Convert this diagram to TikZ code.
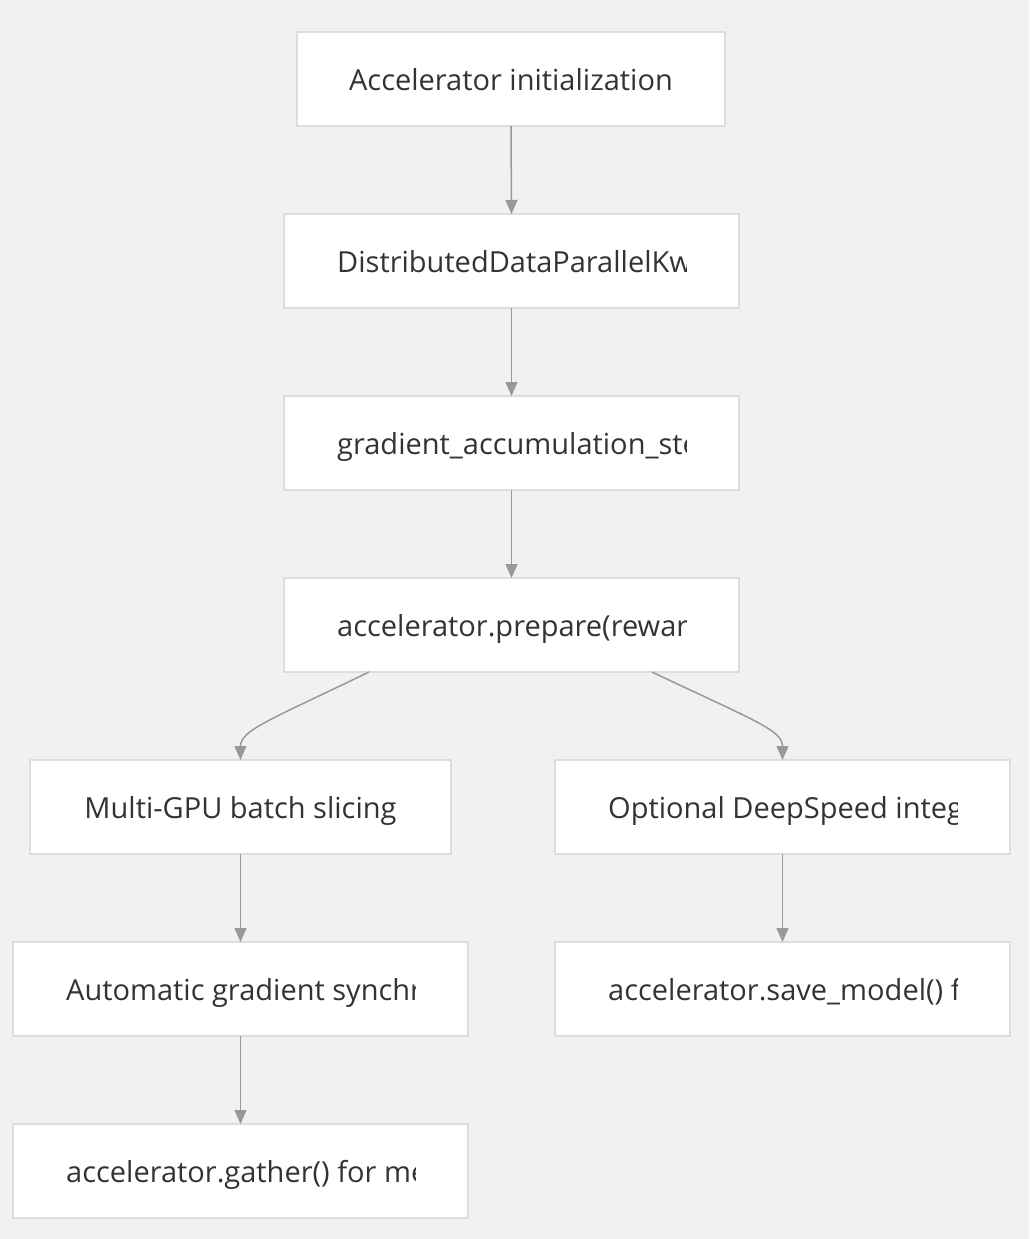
\documentclass[tikz,border=0pt]{standalone}
\usepackage{fontspec}
\setmainfont{Open Sans}
\usetikzlibrary{arrows.meta,calc}
\definecolor{bg}{HTML}{F2F1EF}
\definecolor{bd}{HTML}{DDDDDD}
\definecolor{ln}{HTML}{999999}
\definecolor{tx}{HTML}{333333}
\tikzset{
 box/.style={draw=bd, line width=1.5pt, fill=white, minimum height=94pt, inner sep=0pt, outer sep=0pt},
 lbl/.style={text=tx, font=\fontsize{29}{34}\selectfont, inner sep=0pt},
 conn/.style={draw=ln, line width=1.5pt, -{Triangle[length=14pt,width=12pt]}},
}
\begin{document}
\begin{tikzpicture}[x=1pt,y=-1pt]
\fill[bg] (0,0) rectangle (1029,1239);
\useasboundingbox (0,0) rectangle (1029,1239);
% boxes
\node[box, minimum width=428pt] (n1) at (511,79) {};
\node[box, minimum width=455pt] (n2) at (511.5,261) {};
\node[box, minimum width=455pt] (n3) at (511.5,443) {};
\node[box, minimum width=455pt] (n4) at (511.5,625) {};
\node[box, minimum width=421pt] (n5) at (240.5,807) {};
\node[box, minimum width=455pt] (n6) at (782.5,807) {};
\node[box, minimum width=455pt] (n7) at (240.5,989) {};
\node[box, minimum width=455pt] (n8) at (782.5,989) {};
\node[box, minimum width=455pt] (n9) at (240.5,1171) {};
% labels
\node[lbl, anchor=base] (t1) at ($(n1.center)+(0,11)$) {Accelerator initialization};
\node[lbl, anchor=base] (t5) at ($(n5.center)+(0,11)$) {Multi-GPU batch slicing};
\begin{scope}
\clip ($(n2.north west)+(53,0)$) rectangle ($(n2.south east)+(-53,0)$);
\node[lbl, anchor=base west] (t2) at ($(n2.west)+(53,11)$) {DistributedDataParallelKwa};
\end{scope}
\begin{scope}
\clip ($(n3.north west)+(53,0)$) rectangle ($(n3.south east)+(-53,0)$);
\node[lbl, anchor=base west] (t3) at ($(n3.west)+(53,11)$) {gradient\_accumulation\_ste};
\end{scope}
\begin{scope}
\clip ($(n4.north west)+(53,0)$) rectangle ($(n4.south east)+(-53,0)$);
\node[lbl, anchor=base west] (t4) at ($(n4.west)+(53,11)$) {accelerator.prepare(reward};
\end{scope}
\begin{scope}
\clip ($(n6.north west)+(53,0)$) rectangle ($(n6.south east)+(-53,0)$);
\node[lbl, anchor=base west] (t6) at ($(n6.west)+(53,11)$) {Optional DeepSpeed integ};
\end{scope}
\begin{scope}
\clip ($(n7.north west)+(53,0)$) rectangle ($(n7.south east)+(-53,0)$);
\node[lbl, anchor=base west] (t7) at ($(n7.west)+(53,11)$) {Automatic gradient synchr};
\end{scope}
\begin{scope}
\clip ($(n8.north west)+(53,0)$) rectangle ($(n8.south east)+(-53,0)$);
\node[lbl, anchor=base west] (t8) at ($(n8.west)+(53,11)$) {accelerator.save\_model() fo};
\end{scope}
\begin{scope}
\clip ($(n9.north west)+(53,0)$) rectangle ($(n9.south east)+(-53,0)$);
\node[lbl, anchor=base west] (t9) at ($(n9.west)+(53,11)$) {accelerator.gather() for me};
\end{scope}
% connectors
\draw[conn] (n1.south) -- (n2.north);
\draw[conn] (n2.south) -- (n3.north);
\draw[conn] (n3.south) -- (n4.north);
\draw[conn] ($(n4.south)+(-142.5,0)$) .. controls ($(n4.south)+(-241.5,48)$) and ($(n5.north)+(0,-30)$) .. (n5.north);
\draw[conn] ($(n4.south)+(140.5,0)$) .. controls ($(n4.south)+(241.5,48)$) and ($(n6.north)+(0,-30)$) .. (n6.north);
\draw[conn] (n5.south) -- (n7.north);
\draw[conn] (n7.south) -- (n9.north);
\draw[conn] (n6.south) -- (n8.north);
\end{tikzpicture}
\end{document}
